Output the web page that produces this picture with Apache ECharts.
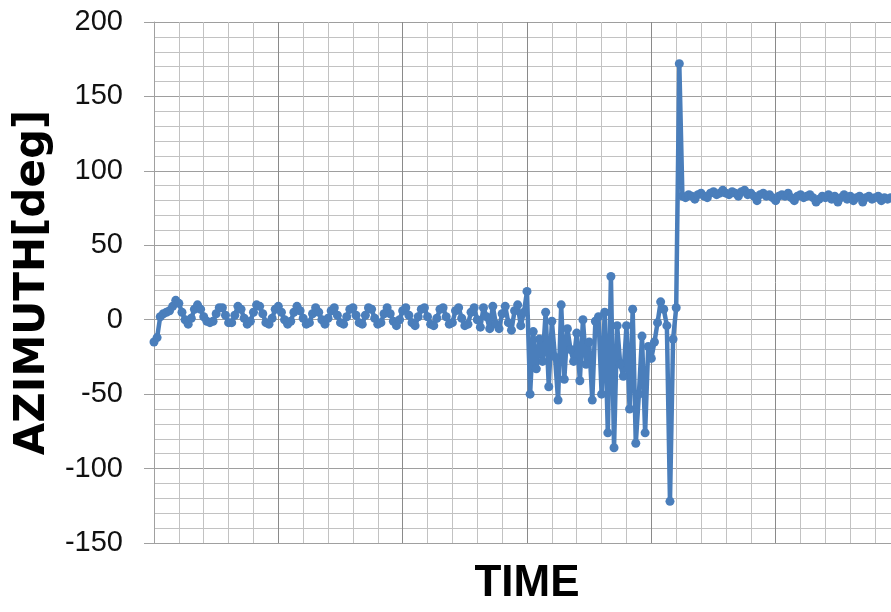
<!DOCTYPE html>
<html>
<head>
<meta charset="utf-8">
<script src="https://cdn.jsdelivr.net/npm/echarts@6/dist/echarts.min.js"></script>
<style>
html,body{margin:0;padding:0;background:#fff;}
#chart{width:891px;height:612px;}
</style>
</head>
<body>
<div id="chart"></div>
<script>
// Azimuth samples (deg), evenly spaced in time
var azimuthSteady = [
  -15, -12, 2, 4, 5, 6, 9, 13, 11, 5,
  0, -3, 1, 7, 10, 7, 2, -1, -2, -1,
  4, 8, 8, 3, -2, -2, 3, 9, 7, 1,
  -3, -1, 5, 10, 9, 4, -2, -3, 1, 7,
  9, 5, 0, -3, -1, 5, 9, 6, 1, -3,
  -2, 4, 8, 5, 0, -3, 1, 6, 8, 3,
  -2, -3, 2, 7, 8, 3, -2, -3, 3, 8,
  7, 1, -3, -2, 4, 8, 4, -1, -4, 0,
  6, 8, 3, -2, -4, 2, 7, 8, 2, -3,
  -4, 1, 7, 8, 2, -3, -2, 6, 8, 1,
  -4, -3, 5, 8, 0, -5, 8, 2, -6, 9,
  -3, -6, 4, 9, -2, -7, 6, 10, -4, 5
];
var azimuthUnstable = [
  19, -50, -8, -33, -13, -28, 5, -45, -1, -25,
  -54, 10, -40, -6, -20, -28, -9, -41, 0, -30,
  -15, -54, -1, 2, -50, 5, -76, 29, -86, -4,
  -30, -38, -4, -60, 7, -83, -50, -11, -76, -18,
  -26, -15, -2, 12, 7, -4, -122, -13, 8, 172
];
var azimuthSettled = [
  83, 82, 84, 83, 81, 84, 85, 83, 82, 85,
  86, 84, 85, 87, 85, 84, 86, 85, 83, 86,
  87, 84, 85, 83, 80, 84, 85, 83, 84, 82,
  80, 83, 84, 83, 85, 82, 80, 83, 84, 82,
  83, 84, 82, 79, 81, 83, 82, 84, 81, 83,
  79, 82, 84, 81, 83, 80, 82, 83, 79, 82,
  83, 81, 82, 83, 80, 82, 81, 82, 81, 82, 81
];
var yTicks = [-150, -100, -50, 0, 50, 100, 150, 200];
var yTitle = 'AZIMUTH[deg]';
var xTitle = 'TIME';

var azimuth = azimuthSteady.concat(azimuthUnstable, azimuthSettled);
var seriesData = azimuth.map(function (v, i) { return [i, v]; });

var chart = echarts.init(document.getElementById('chart'), null, {renderer: 'canvas'});
chart.setOption({
  animation: false,
  backgroundColor: '#ffffff',
  grid: {left: 154, right: -9, top: 22, bottom: 69, containLabel: false, outerBoundsMode: 'none'},
  xAxis: {
    type: 'value',
    min: 0,
    max: 240,
    interval: 40,
    name: xTitle,
    nameLocation: 'middle',
    nameGap: 19,
    nameTextStyle: {
      fontFamily: "'Liberation Sans', sans-serif",
      fontWeight: 'bold',
      fontSize: 44,
      color: '#000'
    },
    axisLine: {show: true, onZero: false, lineStyle: {color: '#a0a0a0', width: 1}},
    axisTick: {show: false},
    axisLabel: {show: false},
    splitLine: {show: true, lineStyle: {color: '#8a8a8a', width: 1}},
    minorTick: {show: false, splitNumber: 5},
    minorSplitLine: {show: true, lineStyle: {color: '#c2c2c2', width: 1}}
  },
  yAxis: {
    type: 'value',
    min: yTicks[0],
    max: yTicks[yTicks.length - 1],
    interval: 50,
    name: yTitle,
    nameLocation: 'middle',
    nameRotate: 90,
    nameGap: 100,
    nameTextStyle: {
      fontFamily: "'DejaVu Sans', sans-serif",
      fontWeight: 'bold',
      fontSize: 42,
      color: '#000'
    },
    axisLine: {show: true, onZero: false, lineStyle: {color: '#a0a0a0', width: 1}},
    axisTick: {show: true, inside: false, length: 10, lineStyle: {color: '#a0a0a0', width: 1}},
    axisLabel: {
      show: true,
      margin: 31,
      fontFamily: "'Liberation Sans', sans-serif",
      fontSize: 29,
      color: '#111'
    },
    splitLine: {show: true, lineStyle: {color: '#9e9e9e', width: 1}},
    minorTick: {show: false, splitNumber: 5},
    minorSplitLine: {show: true, lineStyle: {color: '#c2c2c2', width: 1}}
  },
  series: [{
    type: 'line',
    data: seriesData,
    smooth: false,
    symbol: 'circle',
    symbolSize: 9,
    showSymbol: true,
    lineStyle: {color: '#4a7ebb', width: 4.5},
    itemStyle: {color: '#4a7ebb'},
    emphasis: {disabled: true}
  }]
});
</script>
</body>
</html>
